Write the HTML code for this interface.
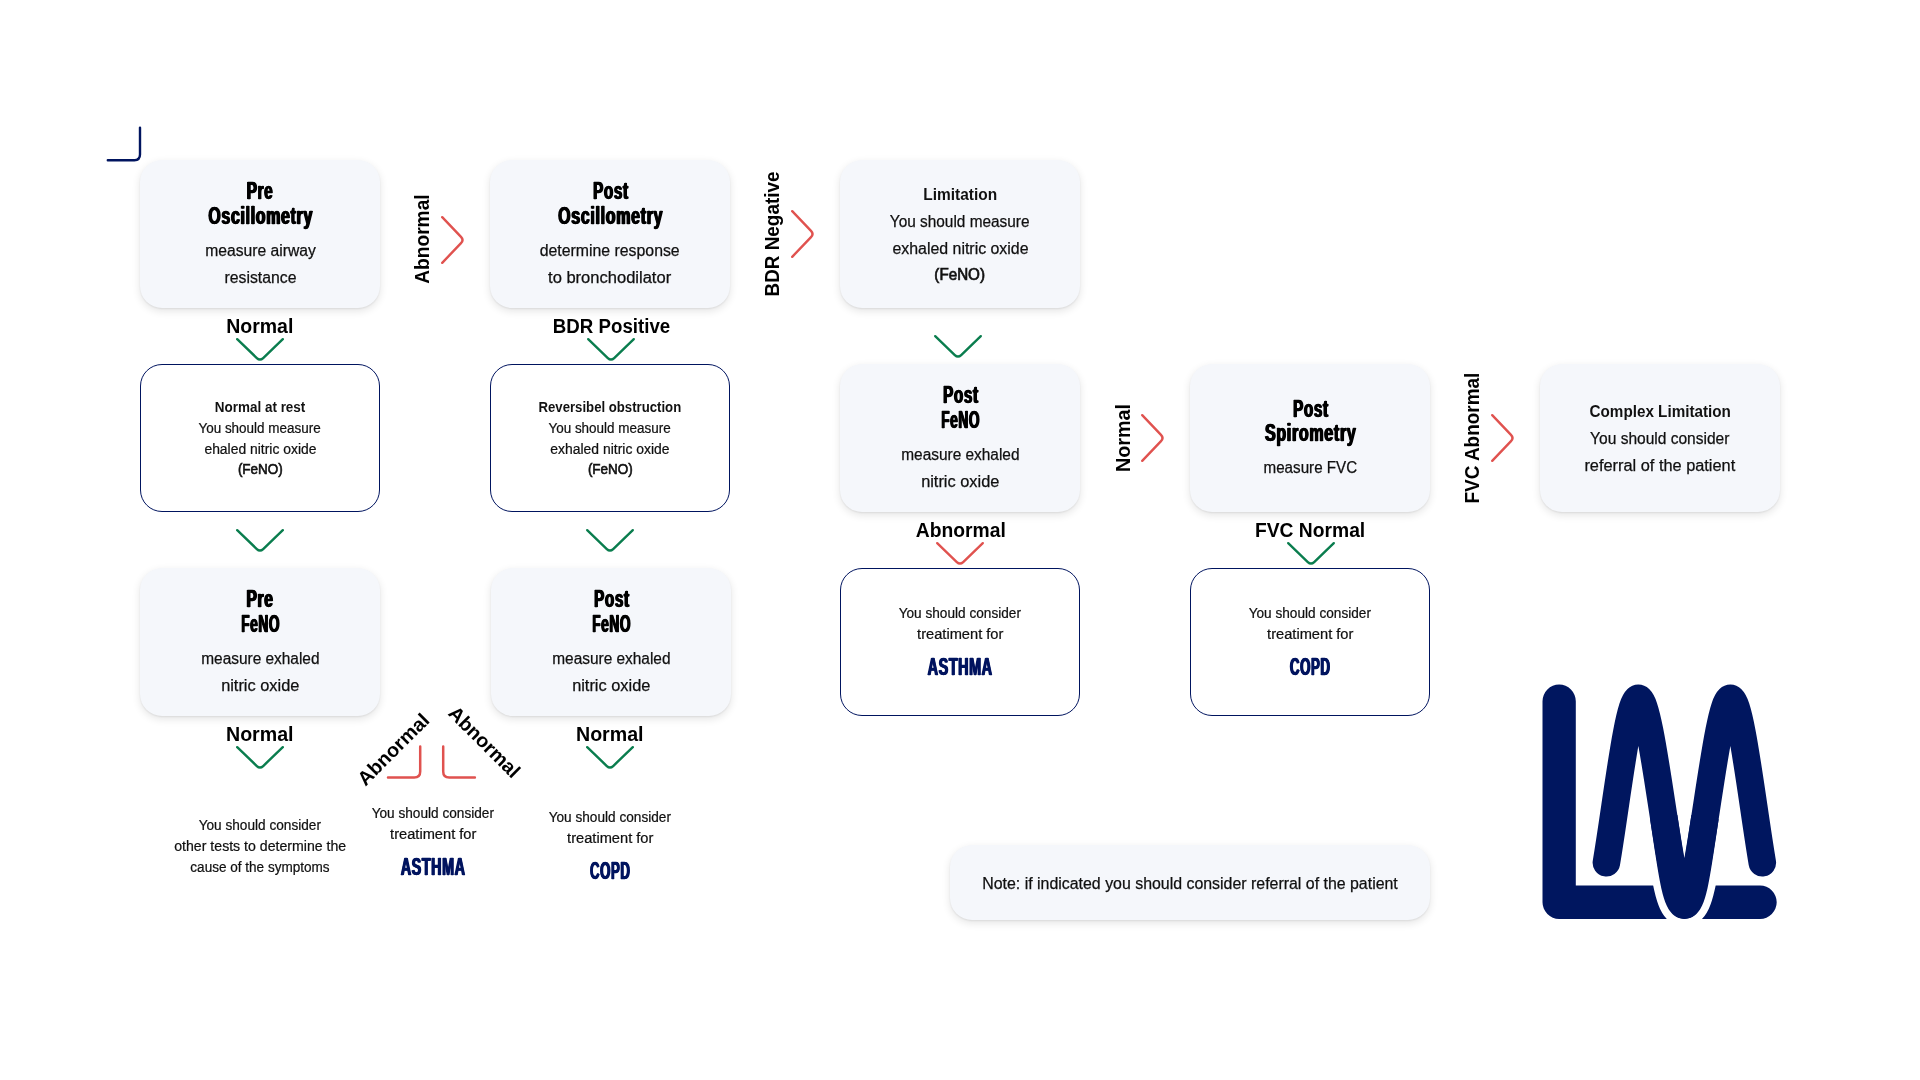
<!DOCTYPE html>
<html lang="en"><head><meta charset="utf-8"><title>Lung function decision flow</title>
<style>
html,body{margin:0;padding:0;background:#fff;}
body{width:1920px;height:1080px;position:relative;overflow:hidden;font-family:"Liberation Sans",sans-serif;}
.card{position:absolute;background:#f5f7fb;border-radius:22px;box-shadow:0 3px 8px rgba(0,0,0,0.11),0 1px 2px rgba(0,0,0,0.08);}
.box{position:absolute;box-sizing:border-box;background:#fff;border:1px solid #00145f;border-radius:22px;}
.t{position:absolute;width:600px;height:0;line-height:0;text-align:center;white-space:nowrap;}
#stage{position:absolute;left:0;top:0;width:1920px;height:1080px;will-change:transform;}
.t span{display:inline-block;line-height:0;transform-origin:50% 50%;}
.ic{position:absolute;overflow:visible;}

.h{font-size:23px;font-weight:700;color:#000;-webkit-text-stroke:0.3px #000;letter-spacing:1.0px;text-shadow:1.0px 0 0 #000,-1.0px 0 0 #000;}
.hn{font-size:23px;font-weight:700;color:#00145f;-webkit-text-stroke:0.3px #00145f;letter-spacing:1.0px;text-shadow:1.0px 0 0 #00145f,-1.0px 0 0 #00145f;}
.b16{font-size:16px;font-weight:400;color:#101010;-webkit-text-stroke:0.25px #101010;}
.bb16{font-size:16px;font-weight:700;color:#111;}
.sb16{font-size:16px;font-weight:400;color:#111;-webkit-text-stroke:0.7px #111;}
.b13{font-size:14px;font-weight:400;color:#101010;-webkit-text-stroke:0.22px #101010;}
.bb13{font-size:14px;font-weight:700;color:#111;}
.sb13{font-size:14px;font-weight:400;color:#111;-webkit-text-stroke:0.6px #111;}
.lab{font-size:19.6px;font-weight:700;color:#000;}
</style></head><body><div id="stage">
<svg class="ic" style="left:100px;top:120px" width="50" height="50" viewBox="100 120 50 50"><path d="M140 127.6 V154.6 Q140 160.2 134.4 160.2 H107.8" fill="none" stroke="#00145f" stroke-width="2.4" stroke-linecap="round"/></svg>
<div class="card" style="left:140px;top:160px;width:240px;height:148px">
  <div class="t h" style="left:-180.00px;top:31.30px;"><span style="margin-right:-1.0px;transform:scaleX(0.6648)">Pre</span></div>
  <div class="t h" style="left:-180.10px;top:56.30px;"><span style="margin-right:-1.0px;transform:scaleX(0.6913)">Oscillometry</span></div>
  <div class="t b16" style="left:-180.00px;top:90.80px;"><span style="transform:scaleX(0.9794)">measure airway</span></div>
  <div class="t b16" style="left:-180.00px;top:117.80px;"><span style="transform:scaleX(0.9862)">resistance</span></div>
</div>
<div class="card" style="left:490px;top:160px;width:240px;height:148px">
  <div class="t h" style="left:-180.00px;top:31.30px;"><span style="margin-right:-1.0px;transform:scaleX(0.6623)">Post</span></div>
  <div class="t h" style="left:-180.00px;top:56.30px;"><span style="margin-right:-1.0px;transform:scaleX(0.6939)">Oscillometry</span></div>
  <div class="t b16" style="left:-180.00px;top:90.80px;"><span style="transform:scaleX(0.9893)">determine response</span></div>
  <div class="t b16" style="left:-180.00px;top:117.80px;"><span style="transform:scaleX(1.0328)">to bronchodilator</span></div>
</div>
<div class="card" style="left:840px;top:160px;width:240px;height:148px">
  <div class="t bb16" style="left:-180.00px;top:34.80px;"><span style="transform:scaleX(0.9663)">Limitation</span></div>
  <div class="t b16" style="left:-180.00px;top:61.80px;"><span style="transform:scaleX(0.9609)">You should measure</span></div>
  <div class="t b16" style="left:-180.00px;top:88.80px;"><span style="transform:scaleX(0.9937)">exhaled nitric oxide</span></div>
  <div class="t sb16" style="left:-180.00px;top:114.80px;"><span style="transform:scaleX(0.9488)">(FeNO)</span></div>
</div>
<div class="card" style="left:140px;top:568px;width:240px;height:148px">
  <div class="t h" style="left:-180.00px;top:31.30px;"><span style="margin-right:-1.0px;transform:scaleX(0.6745)">Pre</span></div>
  <div class="t h" style="left:-180.00px;top:56.30px;"><span style="margin-right:-1.0px;transform:scaleX(0.5945)">FeNO</span></div>
  <div class="t b16" style="left:-180.00px;top:90.80px;"><span style="transform:scaleX(0.9639)">measure exhaled</span></div>
  <div class="t b16" style="left:-180.00px;top:117.80px;"><span style="transform:scaleX(1.0225)">nitric oxide</span></div>
</div>
<div class="card" style="left:491px;top:568px;width:240px;height:148px">
  <div class="t h" style="left:-180.00px;top:31.30px;"><span style="margin-right:-1.0px;transform:scaleX(0.6623)">Post</span></div>
  <div class="t h" style="left:-180.00px;top:56.30px;"><span style="margin-right:-1.0px;transform:scaleX(0.5945)">FeNO</span></div>
  <div class="t b16" style="left:-180.00px;top:90.80px;"><span style="transform:scaleX(0.9639)">measure exhaled</span></div>
  <div class="t b16" style="left:-180.00px;top:117.80px;"><span style="transform:scaleX(1.0225)">nitric oxide</span></div>
</div>
<div class="card" style="left:840px;top:364px;width:240px;height:148px">
  <div class="t h" style="left:-180.00px;top:31.30px;"><span style="margin-right:-1.0px;transform:scaleX(0.6623)">Post</span></div>
  <div class="t h" style="left:-180.00px;top:56.30px;"><span style="margin-right:-1.0px;transform:scaleX(0.5945)">FeNO</span></div>
  <div class="t b16" style="left:-180.00px;top:90.80px;"><span style="transform:scaleX(0.9639)">measure exhaled</span></div>
  <div class="t b16" style="left:-180.00px;top:117.80px;"><span style="transform:scaleX(1.0225)">nitric oxide</span></div>
</div>
<div class="card" style="left:1190px;top:364px;width:240px;height:148px">
  <div class="t h" style="left:-180.00px;top:45.30px;"><span style="margin-right:-1.0px;transform:scaleX(0.6623)">Post</span></div>
  <div class="t h" style="left:-180.00px;top:69.30px;"><span style="margin-right:-1.0px;transform:scaleX(0.6963)">Spirometry</span></div>
  <div class="t b16" style="left:-180.00px;top:103.80px;"><span style="transform:scaleX(0.9485)">measure FVC</span></div>
</div>
<div class="card" style="left:1540px;top:364px;width:240px;height:148px">
  <div class="t bb16" style="left:-180.00px;top:47.80px;"><span style="transform:scaleX(0.9522)">Complex Limitation</span></div>
  <div class="t b16" style="left:-180.00px;top:74.80px;"><span style="transform:scaleX(0.9707)">You should consider</span></div>
  <div class="t b16" style="left:-180.00px;top:101.80px;"><span style="transform:scaleX(1.0214)">referral of the patient</span></div>
</div>
<div class="card" style="left:950px;top:845px;width:480px;height:74.5px">
  <div class="t b16" style="left:-60.00px;top:38.80px;"><span style="transform:scaleX(0.9940)">Note: if indicated you should consider referral of the patient</span></div>
</div>
<div class="box" style="left:140px;top:364px;width:240px;height:148px">
  <div class="t bb13" style="left:-180.90px;top:42.30px;"><span style="transform:scaleX(0.9611)">Normal at rest</span></div>
  <div class="t b13" style="left:-181.00px;top:63.30px;"><span style="transform:scaleX(0.9618)">You should measure</span></div>
  <div class="t b13" style="left:-181.00px;top:84.30px;"><span style="transform:scaleX(0.9930)">ehaled nitric oxide</span></div>
  <div class="t sb13" style="left:-181.00px;top:104.30px;"><span style="transform:scaleX(0.9623)">(FeNO)</span></div>
</div>
<div class="box" style="left:490px;top:364px;width:240px;height:148px">
  <div class="t bb13" style="left:-181.00px;top:42.30px;"><span style="transform:scaleX(0.9406)">Reversibel obstruction</span></div>
  <div class="t b13" style="left:-181.00px;top:63.30px;"><span style="transform:scaleX(0.9618)">You should measure</span></div>
  <div class="t b13" style="left:-181.00px;top:84.30px;"><span style="transform:scaleX(0.9943)">exhaled nitric oxide</span></div>
  <div class="t sb13" style="left:-181.00px;top:104.30px;"><span style="transform:scaleX(0.9623)">(FeNO)</span></div>
</div>
<div class="box" style="left:840px;top:568px;width:240px;height:148px">
  <div class="t b13" style="left:-181.00px;top:44.30px;"><span style="transform:scaleX(0.9737)">You should consider</span></div>
  <div class="t b13" style="left:-181.00px;top:65.30px;"><span style="transform:scaleX(1.0458)">treatiment for</span></div>
  <div class="t hn" style="left:-181.00px;top:98.30px;"><span style="margin-right:-1.0px;transform:scaleX(0.6228)">ASTHMA</span></div>
</div>
<div class="box" style="left:1190px;top:568px;width:240px;height:148px">
  <div class="t b13" style="left:-181.00px;top:44.30px;"><span style="transform:scaleX(0.9737)">You should consider</span></div>
  <div class="t b13" style="left:-181.00px;top:65.30px;"><span style="transform:scaleX(1.0458)">treatiment for</span></div>
  <div class="t hn" style="left:-181.00px;top:98.30px;"><span style="margin-right:-1.0px;transform:scaleX(0.5773)">COPD</span></div>
</div>
<svg class="ic" style="left:230.10000000000002px;top:334.1px" width="60" height="32" viewBox="230.10000000000002 334.1 60 32"><path d="M237.30 339.30 L256.92 358.11 Q260.10 361.15 263.28 358.11 L282.90 339.30" fill="none" stroke="#0a7d4e" stroke-width="2.4" stroke-linecap="round" stroke-linejoin="round"/></svg>
<svg class="ic" style="left:581.3px;top:334.1px" width="60" height="32" viewBox="581.3 334.1 60 32"><path d="M588.50 339.30 L608.12 358.11 Q611.30 361.15 614.48 358.11 L634.10 339.30" fill="none" stroke="#0a7d4e" stroke-width="2.4" stroke-linecap="round" stroke-linejoin="round"/></svg>
<svg class="ic" style="left:928.3px;top:330.7px" width="60" height="32" viewBox="928.3 330.7 60 32"><path d="M935.50 335.90 L955.12 354.71 Q958.30 357.75 961.48 354.71 L981.10 335.90" fill="none" stroke="#0a7d4e" stroke-width="2.4" stroke-linecap="round" stroke-linejoin="round"/></svg>
<svg class="ic" style="left:229.60000000000002px;top:525.2px" width="60" height="32" viewBox="229.60000000000002 525.2 60 32"><path d="M236.80 530.40 L256.42 549.21 Q259.60 552.25 262.78 549.21 L282.40 530.40" fill="none" stroke="#0a7d4e" stroke-width="2.4" stroke-linecap="round" stroke-linejoin="round"/></svg>
<svg class="ic" style="left:579.6px;top:525.2px" width="60" height="32" viewBox="579.6 525.2 60 32"><path d="M586.80 530.40 L606.42 549.21 Q609.60 552.25 612.78 549.21 L632.40 530.40" fill="none" stroke="#0a7d4e" stroke-width="2.4" stroke-linecap="round" stroke-linejoin="round"/></svg>
<svg class="ic" style="left:930.4px;top:537.7px" width="60" height="32" viewBox="930.4 537.7 60 32"><path d="M937.60 542.90 L957.22 561.71 Q960.40 564.75 963.58 561.71 L983.20 542.90" fill="none" stroke="#e0524f" stroke-width="2.4" stroke-linecap="round" stroke-linejoin="round"/></svg>
<svg class="ic" style="left:1280.5px;top:537.7px" width="60" height="32" viewBox="1280.5 537.7 60 32"><path d="M1287.70 542.90 L1307.32 561.71 Q1310.50 564.75 1313.68 561.71 L1333.30 542.90" fill="none" stroke="#0a7d4e" stroke-width="2.4" stroke-linecap="round" stroke-linejoin="round"/></svg>
<svg class="ic" style="left:229.8px;top:741.8px" width="60" height="32" viewBox="229.8 741.8 60 32"><path d="M237.00 747.00 L256.62 765.81 Q259.80 768.85 262.98 765.81 L282.60 747.00" fill="none" stroke="#0a7d4e" stroke-width="2.4" stroke-linecap="round" stroke-linejoin="round"/></svg>
<svg class="ic" style="left:580.1px;top:741.8px" width="60" height="32" viewBox="580.1 741.8 60 32"><path d="M587.30 747.00 L606.92 765.81 Q610.10 768.85 613.28 765.81 L632.90 747.00" fill="none" stroke="#0a7d4e" stroke-width="2.4" stroke-linecap="round" stroke-linejoin="round"/></svg>
<svg class="ic" style="left:436.85px;top:210px" width="32" height="60" viewBox="436.85 210 32 60"><path d="M442.05 217.20 L460.86 236.82 Q463.90 240.00 460.86 243.18 L442.05 262.80" fill="none" stroke="#e0524f" stroke-width="2.4" stroke-linecap="round" stroke-linejoin="round"/></svg>
<svg class="ic" style="left:787px;top:204px" width="32" height="60" viewBox="787 204 32 60"><path d="M792.20 211.20 L811.01 230.82 Q814.05 234.00 811.01 237.18 L792.20 256.80" fill="none" stroke="#e0524f" stroke-width="2.4" stroke-linecap="round" stroke-linejoin="round"/></svg>
<svg class="ic" style="left:1137px;top:407.8px" width="32" height="60" viewBox="1137 407.8 32 60"><path d="M1142.20 415.00 L1161.01 434.62 Q1164.05 437.80 1161.01 440.98 L1142.20 460.60" fill="none" stroke="#e0524f" stroke-width="2.4" stroke-linecap="round" stroke-linejoin="round"/></svg>
<svg class="ic" style="left:1487px;top:408px" width="32" height="60" viewBox="1487 408 32 60"><path d="M1492.20 415.20 L1511.01 434.82 Q1514.05 438.00 1511.01 441.18 L1492.20 460.80" fill="none" stroke="#e0524f" stroke-width="2.4" stroke-linecap="round" stroke-linejoin="round"/></svg>
<svg class="ic" style="left:380px;top:740px" width="110" height="50" viewBox="380 740 110 50"><path d="M420.2 746.4 V771.6 Q420.2 777.6 414.2 777.6 H388" fill="none" stroke="#e0524f" stroke-width="2.5" stroke-linecap="round"/><path d="M443.2 746.4 V771.6 Q443.2 777.6 449.2 777.6 H474.9" fill="none" stroke="#e0524f" stroke-width="2.5" stroke-linecap="round"/></svg>
<svg class="ic" style="left:1530px;top:670px" width="260" height="262" viewBox="1530 670 260 262">
<path d="M1559.15 701.25 V902.25 H1760.05" fill="none" stroke="#00165f" stroke-width="33.3" stroke-linecap="round" stroke-linejoin="round"/>
<path d="M1606.40 862.70 C1616.69 802.22 1628.02 698.40 1638.30 698.40 C1652.80 698.40 1669.90 905.10 1684.40 905.10 C1698.90 905.10 1715.90 698.40 1730.40 698.40 C1740.68 698.40 1752.01 802.22 1762.30 862.70" fill="none" stroke="#fff" stroke-width="42.4" stroke-linecap="round" stroke-linejoin="round"/>
<path d="M1663.72 817.20 C1670.82 863.24 1675.40 905.10 1684.40 905.10 C1693.40 905.10 1697.96 863.24 1705.04 817.20" fill="none" stroke="#fff" stroke-width="42.4" stroke-linecap="butt" stroke-linejoin="round"/>
<path d="M1663.72 817.20 C1670.82 863.24 1675.40 905.10 1684.40 905.10 C1693.40 905.10 1697.96 863.24 1705.04 817.20" fill="none" stroke="#00165f" stroke-width="27.6" stroke-linecap="butt" stroke-linejoin="round"/>
<path d="M1606.40 862.70 C1616.69 802.22 1628.02 698.40 1638.30 698.40 C1652.80 698.40 1669.90 905.10 1684.40 905.10 C1698.90 905.10 1715.90 698.40 1730.40 698.40 C1740.68 698.40 1752.01 802.22 1762.30 862.70" fill="none" stroke="#00165f" stroke-width="27.6" stroke-linecap="round" stroke-linejoin="round"/>
</svg>
<div class="t lab" style="left:-40.00px;top:326.30px;"><span style="transform:scaleX(0.9948)">Normal</span></div>
<div class="t lab" style="left:311.50px;top:326.30px;"><span style="transform:scaleX(0.9538)">BDR Positive</span></div>
<div class="t lab" style="left:660.50px;top:530.30px;"><span style="transform:scaleX(0.9848)">Abnormal</span></div>
<div class="t lab" style="left:1010.40px;top:530.30px;"><span style="transform:scaleX(0.9833)">FVC Normal</span></div>
<div class="t lab" style="left:-40.00px;top:734.30px;"><span style="transform:scaleX(1.0007)">Normal</span></div>
<div class="t lab" style="left:310.10px;top:734.30px;"><span style="transform:scaleX(1.0007)">Normal</span></div>
<div class="t b13" style="left:-40.00px;top:825.30px;"><span style="transform:scaleX(0.9737)">You should consider</span></div>
<div class="t b13" style="left:-40.00px;top:846.30px;"><span style="transform:scaleX(1.0090)">other tests to determine the</span></div>
<div class="t b13" style="left:-40.00px;top:867.30px;"><span style="transform:scaleX(0.9675)">cause of the symptoms</span></div>
<div class="t b13" style="left:132.80px;top:813.30px;"><span style="transform:scaleX(0.9737)">You should consider</span></div>
<div class="t b13" style="left:133.00px;top:834.30px;"><span style="transform:scaleX(1.0458)">treatiment for</span></div>
<div class="t hn" style="left:133.10px;top:867.30px;"><span style="margin-right:-1.0px;transform:scaleX(0.6209)">ASTHMA</span></div>
<div class="t b13" style="left:310.00px;top:817.30px;"><span style="transform:scaleX(0.9737)">You should consider</span></div>
<div class="t b13" style="left:310.00px;top:838.30px;"><span style="transform:scaleX(1.0458)">treatiment for</span></div>
<div class="t hn" style="left:310.10px;top:871.30px;"><span style="margin-right:-1.0px;transform:scaleX(0.5745)">COPD</span></div>
<div class="t lab" style="left:128.60px;top:232.41px;transform:rotate(-90deg);transform-origin:300px 6.79px;"><span style="transform:scaleX(0.9776)">Abnormal</span></div>
<div class="t lab" style="left:479.30px;top:226.81px;transform:rotate(-90deg);transform-origin:300px 6.79px;"><span style="transform:scaleX(0.9647)">BDR Negative</span></div>
<div class="t lab" style="left:829.80px;top:430.81px;transform:rotate(-90deg);transform-origin:300px 6.79px;"><span style="transform:scaleX(1.0098)">Normal</span></div>
<div class="t lab" style="left:1179.20px;top:431.01px;transform:rotate(-90deg);transform-origin:300px 6.79px;"><span style="transform:scaleX(0.9664)">FVC Abnormal</span></div>
<div class="t lab" style="left:97.80px;top:747.41px;transform:rotate(-45deg);transform-origin:300px 6.79px;"><span style="transform:scaleX(1.0073)">Abnormal</span></div>
<div class="t lab" style="left:179.80px;top:739.51px;transform:rotate(45deg);transform-origin:300px 6.79px;"><span style="transform:scaleX(1.0018)">Abnormal</span></div>
</div></body></html>
